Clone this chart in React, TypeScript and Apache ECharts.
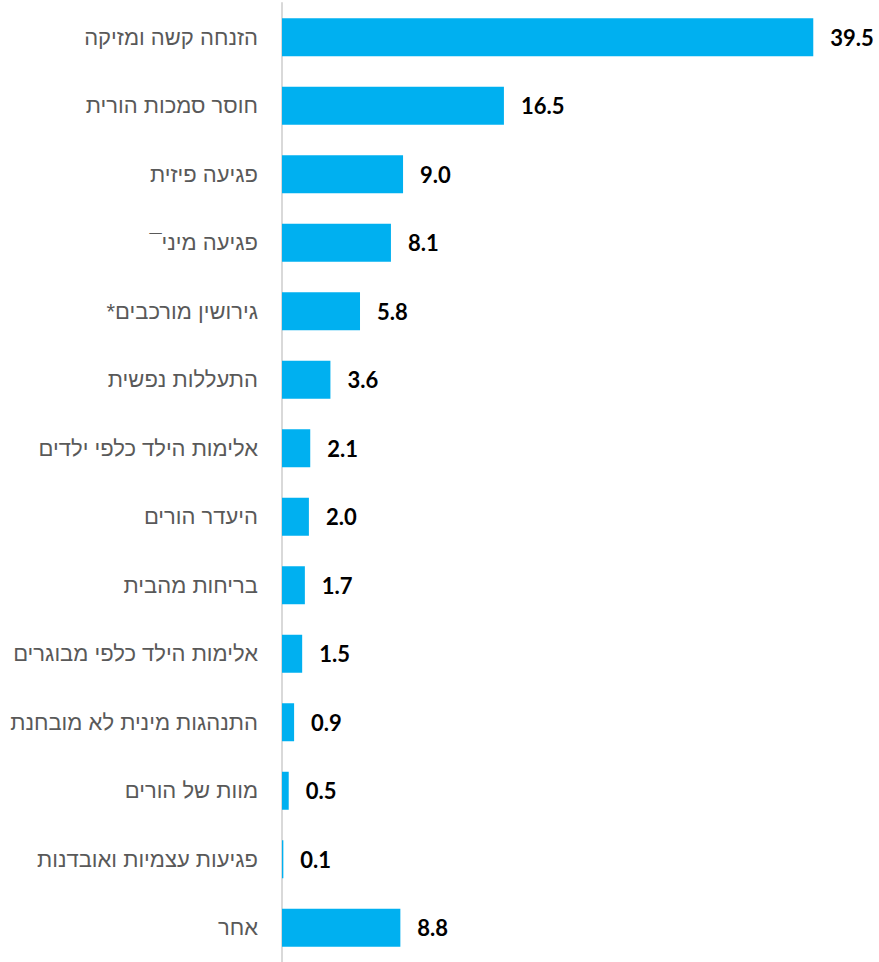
import React, { useEffect, useRef } from "react";
import * as echarts from "echarts";

const categories = [
  "הזנחה קשה ומזיקה",
  "חוסר סמכות הורית",
  "פגיעה פיזית",
  "פגיעה מיני¯\u200F",
  "גירושין מורכבים*\u200F",
  "התעללות נפשית",
  "אלימות הילד כלפי ילדים",
  "היעדר הורים",
  "בריחות מהבית",
  "אלימות הילד כלפי מבוגרים",
  "התנהגות מינית לא מובחנת",
  "מוות של הורים",
  "פגיעות עצמיות ואובדנות",
  "אחר",
];

const values = [39.5, 16.5, 9.0, 8.1, 5.8, 3.6, 2.1, 2.0, 1.7, 1.5, 0.9, 0.5, 0.1, 8.8];

export default function App() {
  const ref = useRef<HTMLDivElement>(null);
  useEffect(() => {
    document.body.style.margin = "0";
    const chart = echarts.init(ref.current!, null, { renderer: "svg" });
    chart.setOption({
      animation: false,
      grid: { left: 282, top: 3, width: 538, bottom: -4, containLabel: false },
      xAxis: {
        type: "value",
        min: 0,
        max: 40,
        show: false,
      },
      yAxis: {
        type: "category",
        inverse: true,
        data: categories,
        axisLine: { show: true, lineStyle: { color: "#d9d9d9", width: 2 } },
        axisTick: { show: false },
        axisLabel: {
          margin: 24,
          color: "#595959",
          fontSize: 22,
          fontFamily: "'Liberation Sans', Arial, sans-serif",
        },
      },
      series: [
        {
          type: "bar",
          data: values,
          barWidth: 38,
          itemStyle: { color: "#00b0f0" },
          label: {
            show: true,
            position: "right",
            distance: 17,
            color: "#000000",
            fontWeight: "bold",
            fontSize: 22,
            fontFamily: "Lato, 'Liberation Sans', sans-serif",
            formatter: (p: any) => Number(p.value).toFixed(1),
          },
        },
      ],
    });
    return () => chart.dispose();
  }, []);
  return <div ref={ref} style={{ width: 879, height: 962 }} />;
}
